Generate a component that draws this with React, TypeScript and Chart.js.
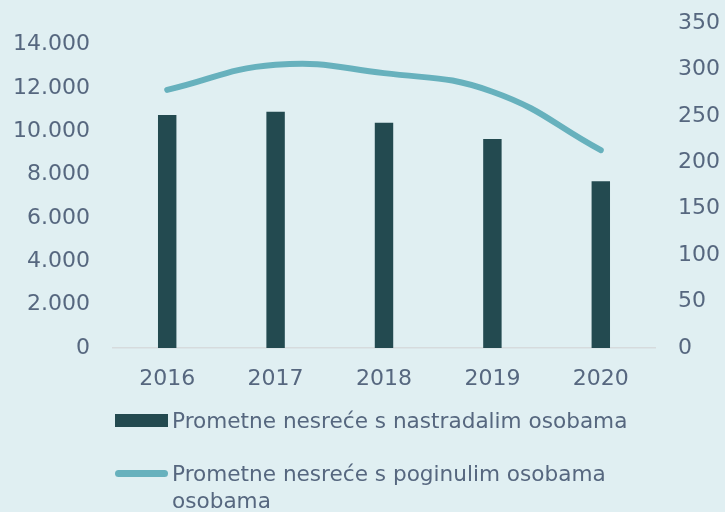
import React, { useEffect, useRef } from 'react';
import { Chart, registerables } from 'chart.js';

Chart.register(...registerables);

const years: string[] = ['2016', '2017', '2018', '2019', '2020'];
const injuredAccidents: number[] = [10750, 10900, 10400, 9650, 7700];
const fatalAccidents: number[] = [278, 305, 296, 276, 213];
const leftTicks: number[] = [0, 2000, 4000, 6000, 8000, 10000, 12000, 14000];
const labelBars = 'Prometne nesreće s nastradalim osobama';
const labelLine = 'Prometne nesreće s poginulim osobama osobama';

const TEXT = '#56677f';
const BAR = '#234a50';
const LINE = '#67b1bd';
const BG = '#e0eff2';
const FONT = 'DejaVu Sans';

const fmt = (v: number) => String(v).replace(/\B(?=(\d{3})+(?!\d))/g, '.');

export default function App() {
  const ref = useRef<HTMLCanvasElement | null>(null);

  useEffect(() => {
    document.body.style.margin = '0';
    if (!ref.current) return;
    const chart = new Chart(ref.current, {
      type: 'bar',
      data: {
        labels: years,
        datasets: [
          {
            type: 'line',
            label: labelLine,
            data: fatalAccidents,
            yAxisID: 'y1',
            borderColor: LINE,
            backgroundColor: LINE,
            borderWidth: 6,
            borderCapStyle: 'round',
            pointRadius: 0,
            tension: 0.45,
            order: 0,
          } as any,
          {
            type: 'bar',
            label: labelBars,
            data: injuredAccidents,
            yAxisID: 'y',
            backgroundColor: BAR,
            categoryPercentage: 1,
            barPercentage: 0.17,
            order: 1,
          },
        ],
      },
      options: {
        responsive: false,
        animation: false,
        layout: { padding: { top: 23, left: 0, right: 0, bottom: 0 } },
        plugins: { legend: { display: false }, tooltip: { enabled: false } },
        scales: {
          x: {
            grid: { display: false, drawTicks: false },
            border: { display: true, color: '#d6dbdd', width: 1.5 },
            ticks: { color: TEXT, font: { family: FONT, size: 22 }, padding: 18 },
            afterFit: (s: any) => { s.height = 164; },
          },
          y: {
            position: 'left',
            min: 0,
            max: 15000,
            grid: { display: false, drawTicks: false },
            border: { display: false },
            ticks: { color: TEXT, font: { family: FONT, size: 22 }, padding: 23, callback: (v: any) => fmt(Number(v)) },
            afterBuildTicks: (s: any) => { s.ticks = leftTicks.map((v) => ({ value: v })); },
            afterFit: (s: any) => { s.width = 113; s.paddingTop = 0; s.paddingBottom = 0; },
          },
          y1: {
            position: 'right',
            min: 0,
            max: 350,
            grid: { display: false, drawTicks: false },
            border: { display: false },
            ticks: { color: TEXT, font: { family: FONT, size: 22 }, padding: 23, stepSize: 50 },
            afterFit: (s: any) => { s.width = 70; s.paddingTop = 0; s.paddingBottom = 0; },
          },
        },
      },
    });
    return () => chart.destroy();
  }, []);

  const textStyle: React.CSSProperties = {
    position: 'absolute',
    left: 172,
    fontFamily: FONT,
    fontSize: 21.6,
    lineHeight: '27px',
    color: TEXT,
    whiteSpace: 'normal',
  };

  return (
    <div style={{ position: 'relative', width: 725, height: 512, background: BG, overflow: 'hidden' }}>
      <canvas ref={ref} width={725} height={512} style={{ display: 'block', width: 725, height: 512 }} />
      <div style={{ position: 'absolute', left: 115, top: 414, width: 53, height: 13, background: BAR }} />
      <div style={{ ...textStyle, top: 407, width: 540 }}>{labelBars}</div>
      <div style={{ position: 'absolute', left: 115, top: 470, width: 53, height: 7, borderRadius: 4, background: LINE }} />
      <div style={{ ...textStyle, top: 460, width: 460 }}>{labelLine}</div>
    </div>
  );
}
